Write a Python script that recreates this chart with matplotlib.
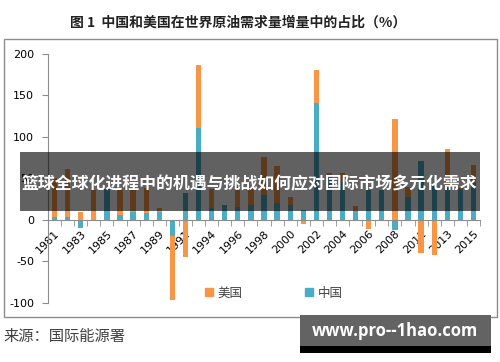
import numpy as np
import matplotlib.pyplot as plt
from matplotlib.patches import Rectangle, Patch

plt.rcParams['font.family'] = ['Noto Sans CJK SC', 'DejaVu Sans']

# categories (1992-93 and 2009-10 only one of each present)
years = ['1981', '1982', '1983', '1984', '1985', '1986', '1987', '1988', '1989', '1990', '1991',
         '1992', '1994', '1995', '1996', '1997', '1998', '1999', '2000', '2001', '2002',
         '2003', '2004', '2005', '2006', '2007', '2008', '2010', '2011', '2012', '2013',
         '2014', '2015']
china = [3, 3, -10, 0, 37, 6, 9, 8, 9, -19, 32, 111, 14, 18, 15, 18, 30, 20, 18, 12, 141,
         50, 46, 11, 36, 36, -12, 28, 71, 42, 40, 36, 44]
us = [47, 58, 9, 36, 0, 30, 27, 30, 5, -78, -45, 76, 23, 0, 25, 22, 46, 45, 9, -5, 40,
      7, 10, 6, -11, 0, 121, 12, -40, -42, 45, 2, 22]
yticks = [-100, -50, 0, 50, 100, 150, 200]

c_us = '#F79646'
c_cn = '#4BACC6'

W, H = 500, 362
fig = plt.figure(figsize=(W / 100, H / 100), dpi=100)

def fx(px):
    return px / W

def fy(py):
    return 1 - py / H

ax = fig.add_axes([fx(48), fy(302.7), fx(480) - fx(48), fy(54) - fy(302.7)])

x = np.arange(len(years))
cn = np.array(china)
u = np.array(us)
# excel style stacking: same-sign values stack, opposite sign starts at zero
bottom_us = np.where(np.sign(cn) == np.sign(u), cn, 0)

ax.bar(x, cn, width=0.4, color=c_cn, label='中国', zorder=2)
ax.bar(x, u, width=0.4, bottom=bottom_us, color=c_us, label='美国', zorder=2)

ax.set_xlim(-0.5, len(years) - 0.5)
ax.set_ylim(-100, 200)

for s in ['top', 'right']:
    ax.spines[s].set_visible(False)
ax.spines['left'].set_color('#8c8c8c')
ax.spines['bottom'].set_color('#8c8c8c')
ax.spines['bottom'].set_position(('data', 0))
ax.spines['bottom'].set_zorder(3)

ax.set_yticks(yticks)
ax.set_yticklabels([str(v) for v in yticks], fontsize=8, family='DejaVu Sans')
ax.tick_params(axis='y', length=4, color='#8c8c8c', pad=6)

ax.set_xticks(x[::2])
ax.set_xticklabels(years[::2], rotation=45, ha='right', rotation_mode='anchor',
                   fontsize=8, family='DejaVu Sans')
ax.set_xticks(np.arange(-0.5, len(years), 1), minor=True)
ax.tick_params(axis='x', which='major', length=0, pad=6)
ax.tick_params(axis='x', which='minor', length=4, color='#8c8c8c')

handles = [Patch(color=c_us, label='美国'), Patch(color=c_cn, label='中国')]
fig.legend(handles=handles, loc='center', bbox_to_anchor=(fx(274), fy(293)), ncol=2,
           frameon=False, fontsize=9, handlelength=0.6, handleheight=0.6,
           handletextpad=0.4, columnspacing=5.0, labelcolor='#404040')

# chart border
fig.patches.append(Rectangle((fx(4), fy(317.3)), fx(497) - fx(4), fy(39.3) - fy(317.3),
                             transform=fig.transFigure, fill=False, edgecolor='#8c8c8c', lw=1))

fig.text(fx(238), fy(23), '图 1  中国和美国在世界原油需求量增量中的占比（%）',
         ha='center', va='center', fontsize=10, fontweight='bold', color='#222222')
fig.text(fx(3), fy(337), '来源：国际能源署', ha='left', va='center', fontsize=11, color='#404040')

# banner overlay
fig.patches.append(Rectangle((fx(20), fy(211)), fx(480) - fx(20), fy(152) - fy(211),
                             transform=fig.transFigure, color='black', alpha=0.62, lw=0, zorder=10))
fig.text(fx(249.5), fy(184), '篮球全球化进程中的机遇与挑战如何应对国际市场多元化需求',
         ha='center', va='center', fontsize=12.2, fontweight='bold', color='white', zorder=11)

# watermark
fig.patches.append(Rectangle((fx(300), fy(346)), fx(491) - fx(300), fy(315) - fy(346),
                             transform=fig.transFigure, color='#636363', lw=0, zorder=10))
fig.patches.append(Rectangle((fx(300), fy(353)), fx(491) - fx(300), fy(346) - fy(353),
                             transform=fig.transFigure, color='black', lw=0, zorder=10))
fig.text(fx(395), fy(331), 'www.pro--1hao.com', ha='center', va='center', fontsize=12,
         fontweight='bold', color='white', family='Open Sans', zorder=11)

fig.savefig('out.png', dpi=100)
